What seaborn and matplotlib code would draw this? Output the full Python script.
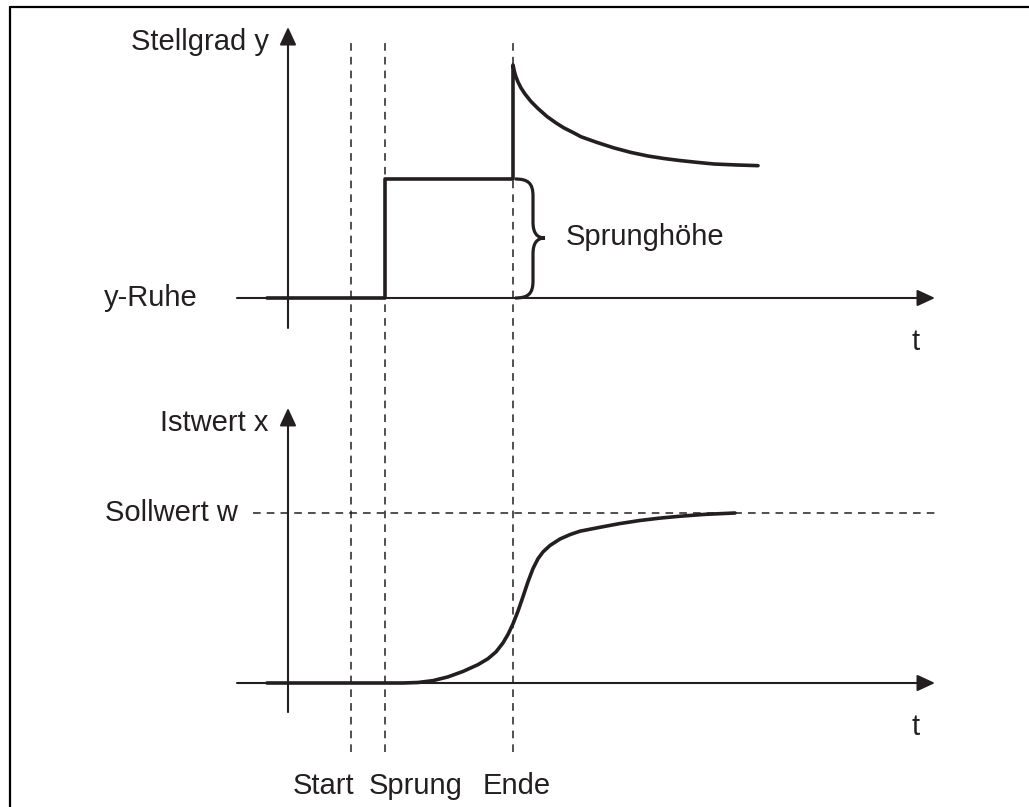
import matplotlib
matplotlib.use("Agg")
import matplotlib.pyplot as plt
from matplotlib.lines import Line2D
from matplotlib.path import Path
from matplotlib.patches import PathPatch
import seaborn as sns
import pandas as pd

sns.set_theme(style="white")
plt.rcParams["font.family"] = ["Liberation Sans", "DejaVu Sans"]

INK = "#231f20"

# Event times (time axis, arbitrary units)
event_names = ["Start", "Sprung", "Ende"]
event_times = [0.63, 0.97, 2.25]

# Actuating signal y (0 = y-Ruhe, 1 = step height)
stellgrad_t = [-0.21, 0.97, 0.97, 2.25, 2.25, 2.265, 2.28, 2.30, 2.33, 2.37,
               2.43, 2.50, 2.59, 2.68, 2.76, 2.85, 2.93, 3.09, 3.26, 3.43,
               3.60, 3.76, 3.93, 4.10, 4.26, 4.48, 4.70]
stellgrad_y = [0.0, 0.0, 1.0, 1.0, 1.958, 1.899, 1.857, 1.815, 1.765, 1.714,
               1.651, 1.592, 1.525, 1.471, 1.429, 1.391, 1.355, 1.307, 1.261,
               1.223, 1.193, 1.172, 1.154, 1.139, 1.126, 1.118, 1.112]

# Process value x (0 = rest, 1 = Sollwert w)
istwert_t = [-0.21, 1.15, 1.30, 1.45, 1.60, 1.75, 1.90, 2.00, 2.08, 2.15,
             2.20, 2.25, 2.30, 2.35, 2.40, 2.45, 2.50, 2.55, 2.62, 2.72,
             2.82, 2.92, 3.12, 3.32, 3.52, 3.72, 3.92, 4.17, 4.47]
istwert_x = [0.0, 0.0, 0.003, 0.014, 0.036, 0.068, 0.108, 0.143, 0.183, 0.236,
             0.286, 0.348, 0.423, 0.508, 0.596, 0.673, 0.731, 0.771, 0.809,
             0.847, 0.873, 0.893, 0.916, 0.938, 0.956, 0.970, 0.981, 0.992,
             1.0]

sollwert = 1.0

fig = plt.figure(figsize=(10.29, 8.07), dpi=100)

# Two overlaid full-figure axes, each with its own value scale
ax_top = fig.add_axes([0, 0, 1, 1])
ax_bot = fig.add_axes([0, 0, 1, 1])
for ax in (ax_top, ax_bot):
    ax.set_xlim(-2.88, 7.41)
    ax.set_axis_off()
    ax.patch.set_alpha(0)
ax_top.set_ylim(-4.277, 2.504)
ax_bot.set_ylim(-0.7294, 4.0176)

arrow_kw = dict(arrowstyle="-|>,head_length=1.08,head_width=0.5",
                mutation_scale=10, color=INK, lw=1.5,
                shrinkA=0, shrinkB=0)

# --- upper diagram: Stellgrad y -------------------------------------------
ax_top.annotate("", xy=(6.47, 0), xytext=(-0.51, 0), arrowprops=arrow_kw)
ax_top.annotate("", xy=(0, 2.277), xytext=(0, -0.252), arrowprops=arrow_kw)

df_y = pd.DataFrame({"t": stellgrad_t, "y": stellgrad_y})
sns.lineplot(data=df_y, x="t", y="y", sort=False, estimator=None,
             color=INK, lw=2.6, ax=ax_top, legend=False)
ax_top.lines[-1].set_solid_joinstyle("round")

# Event markers spanning both diagrams
ax_top.vlines(event_times, -3.815, 2.168, colors=INK, linestyles=(0, (5, 4)),
              lw=1.1)

# Curly brace marking the step height (between y-Ruhe and the step level)
e = event_times[2]
xs_end, xs_ctl, xs_stem, xs_tipc, xs_tip = e + 0.02, e + 0.15, e + 0.20, e + 0.24, e + 0.32
verts = [(xs_end, 1.0),
         (xs_ctl, 1.0), (xs_stem, 0.966), (xs_stem, 0.857),
         (xs_stem, 0.639),
         (xs_stem, 0.546), (xs_tipc, 0.504), (xs_tip, 0.504),
         (xs_tipc, 0.504), (xs_stem, 0.462), (xs_stem, 0.370),
         (xs_stem, 0.143),
         (xs_stem, 0.034), (xs_ctl, 0.0), (xs_end, 0.0)]
codes = [Path.MOVETO,
         Path.CURVE4, Path.CURVE4, Path.CURVE4,
         Path.LINETO,
         Path.CURVE4, Path.CURVE4, Path.CURVE4,
         Path.CURVE4, Path.CURVE4, Path.CURVE4,
         Path.LINETO,
         Path.CURVE4, Path.CURVE4, Path.CURVE4]
ax_top.add_patch(PathPatch(Path(verts, codes), facecolor="none",
                           edgecolor=INK, lw=2.3, capstyle="butt"))

fs = 21
ax_top.text(-0.19, 2.155, "Stellgrad y", ha="right", va="center",
            fontsize=fs, color=INK)
ax_top.text(-1.84, 0.0, "y-Ruhe", ha="left", va="center",
            fontsize=fs, color=INK)
ax_top.text(2.78, 0.51, "Sprunghöhe", ha="left", va="center",
            fontsize=fs, color=INK)
ax_top.text(6.28, -0.37, "t", ha="center", va="center",
            fontsize=fs, color=INK)
for name, tx in zip(event_names, [0.35, 1.28, 2.29]):
    ax_top.text(tx, -4.1, name, ha="center", va="center",
                fontsize=fs, color=INK)

# --- lower diagram: Istwert x ---------------------------------------------
ax_bot.annotate("", xy=(6.47, 0), xytext=(-0.51, 0), arrowprops=arrow_kw)
ax_bot.annotate("", xy=(0, 1.618), xytext=(0, -0.171), arrowprops=arrow_kw)
ax_bot.hlines(sollwert, -0.35, 6.47, colors=INK, linestyles=(0, (5, 4)),
              lw=1.1)

df_x = pd.DataFrame({"t": istwert_t, "x": istwert_x})
sns.lineplot(data=df_x, x="t", y="x", sort=False, estimator=None,
             color=INK, lw=2.6, ax=ax_bot, legend=False)
ax_bot.lines[-1].set_solid_joinstyle("round")

ax_bot.text(-0.19, 1.53, "Istwert x", ha="right", va="center",
            fontsize=fs, color=INK)
ax_bot.text(-1.83, sollwert, "Sollwert w", ha="left", va="center",
            fontsize=fs, color=INK)
ax_bot.text(6.28, -0.26, "t", ha="center", va="center",
            fontsize=fs, color=INK)

# Frame on the left and top edges
fig.add_artist(Line2D([10 / 1029, 10 / 1029], [0, 1 - 7 / 807],
                      transform=fig.transFigure, color="black", lw=1.6))
fig.add_artist(Line2D([10 / 1029, 1], [1 - 7 / 807, 1 - 7 / 807],
                      transform=fig.transFigure, color="black", lw=1.6))

fig.savefig("out.png", dpi=100, facecolor="white")
